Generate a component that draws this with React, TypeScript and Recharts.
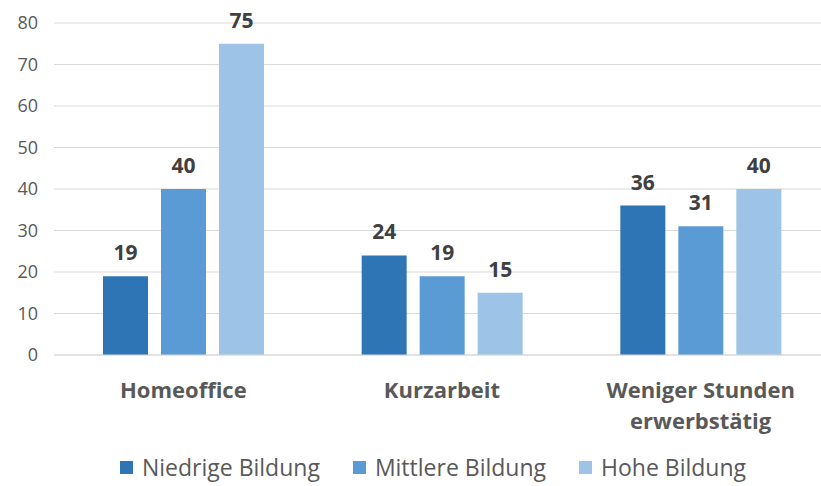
import { BarChart, Bar, XAxis, YAxis, CartesianGrid, Legend, LabelList } from "recharts"

const categories = ["Homeoffice", "Kurzarbeit", "Weniger Stunden\nerwerbstätig"]
const niedrig = [19, 24, 36]
const mittel = [40, 19, 31]
const hoch = [75, 15, 40]
const yTicks = [0, 10, 20, 30, 40, 50, 60, 70, 80]

const series = [
  { key: "niedrig", name: "Niedrige Bildung", color: "#2E75B6" },
  { key: "mittel", name: "Mittlere Bildung", color: "#5B9BD5" },
  { key: "hoch", name: "Hohe Bildung", color: "#9DC3E6" },
]

const data = categories.map((c, i) => ({
  name: c,
  niedrig: niedrig[i],
  mittel: mittel[i],
  hoch: hoch[i],
}))

const font = "'Open Sans', 'Noto Sans', sans-serif"

function CategoryTick({ x, y, payload }: any) {
  const lines = String(payload.value).split("\n")
  return (
    <text
      x={x}
      y={y + 35}
      textAnchor="middle"
      fill="#595959"
      fontFamily={font}
      fontSize={22}
      fontWeight={700}
    >
      {lines.map((l, i) => (
        <tspan key={i} x={x} dy={i === 0 ? 0 : 31}>
          {l}
        </tspan>
      ))}
    </text>
  )
}

function LegendContent() {
  return (
    <div
      style={{
        display: "flex",
        justifyContent: "center",
        gap: 33,
        fontFamily: font,
        fontSize: 23,
        lineHeight: "30px",
        color: "#595959",
        paddingLeft: 36,
        paddingTop: 6,
      }}
    >
      {series.map((s) => (
        <div key={s.key} style={{ display: "flex", alignItems: "center" }}>
          <span
            style={{
              display: "inline-block",
              width: 13,
              height: 13,
              background: s.color,
              marginRight: 9,
            }}
          />
          {s.name}
        </div>
      ))}
    </div>
  )
}

export default function App() {
  return (
    <div style={{ width: 821, height: 486, overflow: "hidden", background: "#fff" }}>
      <style>{`body{margin:0;overflow:hidden}`}</style>
      <BarChart
        width={830}
        height={486}
        data={data}
        margin={{ top: 23, right: 0, left: 0, bottom: 0 }}
        barGap={13}
        barSize={45}
      >
        <CartesianGrid vertical={false} stroke="#D9D9D9" />
        <XAxis
          dataKey="name"
          axisLine={{ stroke: "#D9D9D9" }}
          tickLine={false}
          interval={0}
          height={91}
          tick={<CategoryTick />}
        />
        <YAxis
          domain={[0, 80]}
          ticks={yTicks}
          width={54}
          axisLine={false}
          tickLine={false}
          tickSize={8}
          tickMargin={8}
          tick={{ fill: "#595959", fontSize: 18, fontFamily: font }}
        />
        <Legend verticalAlign="bottom" height={40} content={<LegendContent />} />
        {series.map((s) => (
          <Bar key={s.key} dataKey={s.key} name={s.name} fill={s.color} isAnimationActive={false}>
            <LabelList
              dataKey={s.key}
              position="top"
              offset={16}
              fill="#404040"
              fontSize={21}
              fontWeight={700}
              fontFamily={font}
            />
          </Bar>
        ))}
      </BarChart>
    </div>
  )
}
